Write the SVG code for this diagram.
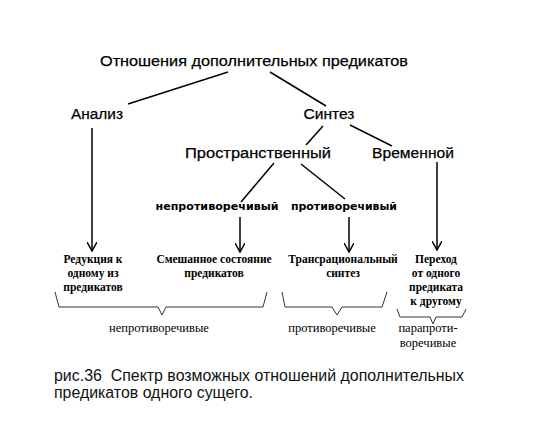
<svg xmlns="http://www.w3.org/2000/svg" width="536" height="424" viewBox="0 0 536 424">
<style>
.h{font-family:"Liberation Sans",Arial,sans-serif;font-size:15.5px;fill:#000;stroke:#000;stroke-width:0.25}
.b{font-family:"DejaVu Sans",Verdana,sans-serif;font-size:11px;font-weight:bold;fill:#000}
.s{font-family:"Liberation Serif","Times New Roman",serif;font-size:11.5px;font-weight:bold;fill:#000}
.r{font-family:"Liberation Serif","Times New Roman",serif;font-size:12.5px;fill:#000}
.c{font-family:"Liberation Sans",Arial,sans-serif;font-size:16px;fill:#111}
.ln{stroke:#000;stroke-width:1.5;fill:none}
.br{stroke:#333;stroke-width:1;fill:none}
</style>
<defs>
<marker id="ah" viewBox="0 0 10 10" refX="9" refY="5" markerWidth="10" markerHeight="10" markerUnits="userSpaceOnUse" orient="auto">
<path d="M0,0 L9,5 L0,10" fill="none" stroke="#000" stroke-width="1.5"/>
</marker>
</defs>
<g id="connectors">
<line class="ln" x1="228" y1="72" x2="128" y2="104"/>
<line class="ln" x1="270" y1="72" x2="326" y2="106"/>
<line class="ln" x1="323" y1="126" x2="306" y2="145"/>
<line class="ln" x1="350" y1="125" x2="392" y2="146"/>
<line class="ln" x1="274" y1="163" x2="241" y2="202"/>
<line class="ln" x1="301" y1="164" x2="345" y2="199"/>
<line class="ln" x1="92" y1="128" x2="92" y2="251" marker-end="url(#ah)" stroke-width="2"/>
<line class="ln" x1="437" y1="162" x2="437" y2="250" marker-end="url(#ah)" stroke-width="2"/>
<line class="ln" x1="240" y1="217" x2="240" y2="252" marker-end="url(#ah)" stroke-width="2"/>
<line class="ln" x1="349" y1="217" x2="349" y2="252" marker-end="url(#ah)" stroke-width="2"/>
<polyline class="br" points="55,292 59,307 158,307 162,315 166,307 263,307 267,292"/>
<polyline class="br" points="282,292 285,307 332,307 337,315 342,307 382,307 387,292"/>
<polyline class="br" points="397,309 400,317 430,317 433,324 436,317 462,317 466,309"/>
</g>
<g id="title"><text class="h" x="254" y="66" text-anchor="middle" textLength="308" lengthAdjust="spacingAndGlyphs">Отношения дополнительных предикатов</text></g>
<g id="analiz"><text class="h" x="97" y="119" text-anchor="middle" textLength="52" lengthAdjust="spacingAndGlyphs">Анализ</text></g>
<g id="sintez"><text class="h" x="329" y="119" text-anchor="middle" textLength="51" lengthAdjust="spacingAndGlyphs">Синтез</text></g>
<g id="prostr"><text class="h" x="258" y="158" text-anchor="middle" textLength="146" lengthAdjust="spacingAndGlyphs">Пространственный</text></g>
<g id="vrem"><text class="h" x="413" y="158" text-anchor="middle" textLength="82" lengthAdjust="spacingAndGlyphs">Временной</text></g>
<g id="neprot"><text class="b" x="217" y="210" text-anchor="middle" textLength="123" lengthAdjust="spacingAndGlyphs">непротиворечивый</text></g>
<g id="prot"><text class="b" x="344" y="210" text-anchor="middle" textLength="106" lengthAdjust="spacingAndGlyphs">противоречивый</text></g>
<g id="reduk"><text class="s" text-anchor="middle"><tspan x="93" y="263">Редукция к</tspan><tspan x="93" y="277">одному из</tspan><tspan x="93" y="291">предикатов</tspan></text></g>
<g id="smesh"><text class="s" text-anchor="middle"><tspan x="214" y="263">Смешанное состояние</tspan><tspan x="214" y="277">предикатов</tspan></text></g>
<g id="trans"><text class="s" text-anchor="middle"><tspan x="343" y="263">Трансрациональный</tspan><tspan x="343" y="277">синтез</tspan></text></g>
<g id="perehod"><text class="s" text-anchor="middle"><tspan x="436" y="263">Переход</tspan><tspan x="436" y="277">от одного</tspan><tspan x="436" y="291">предиката</tspan><tspan x="436" y="305">к другому</tspan></text></g>
<g id="lab1"><text class="r" x="159" y="332" text-anchor="middle">непротиворечивые</text></g>
<g id="lab2"><text class="r" x="332" y="332" text-anchor="middle">противоречивые</text></g>
<g id="lab3"><text class="r" text-anchor="middle"><tspan x="428" y="332">парапроти-</tspan><tspan x="428" y="347">воречивые</tspan></text></g>
<g id="caption"><text class="c" xml:space="preserve"><tspan x="54" y="381" textLength="410" lengthAdjust="spacingAndGlyphs">рис.36  Спектр возможных отношений дополнительных</tspan><tspan x="54" y="398" textLength="199" lengthAdjust="spacingAndGlyphs">предикатов одного сущего.</tspan></text></g>
</svg>
